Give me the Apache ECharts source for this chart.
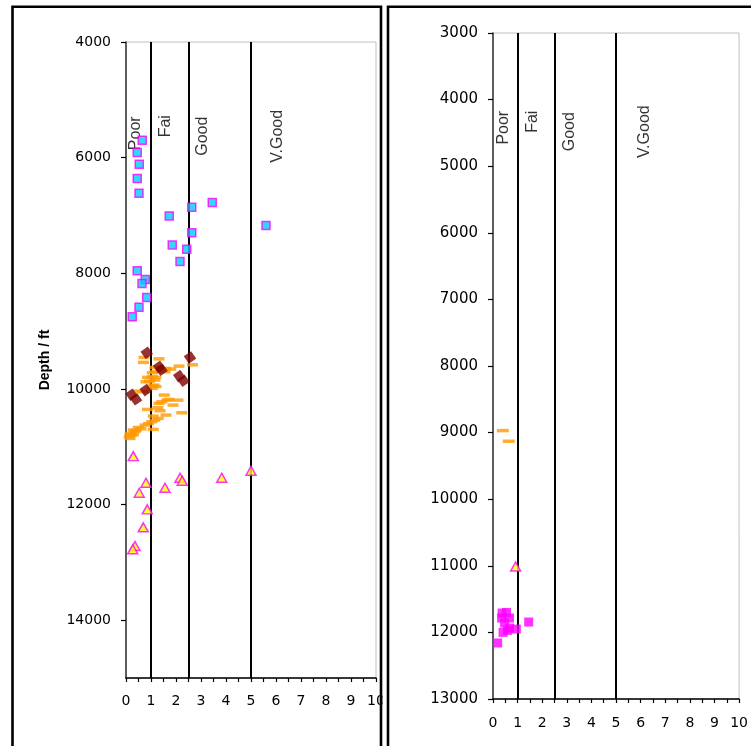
<!DOCTYPE html>
<html>
<head>
<meta charset="utf-8">
<script src="https://cdn.jsdelivr.net/npm/echarts@6/dist/echarts.min.js"></script>
<style>
html,body{margin:0;padding:0;background:#fff;}
#c{width:751px;height:746px;}
</style>
</head>
<body>
<div id="c"></div>
<script>
// ---------- data ----------
const bandNames = ['Poor', 'Fai', 'Good', 'V.Good'];
const bandLimits = [1, 2.5, 5];
const bandLabelXLeft = [0.39, 1.6, 3.06, 6.06];
const bandLabelYLeft = [5579, 5457, 5630, 5630];
const bandLabelXRight = [0.43, 1.59, 3.11, 6.14];
const bandLabelYRight = [4422, 4332, 4482, 4482];

const xTicksLeft = [0, 10];
const depthRangeLeft = [4000, 15000];
const depthStepLeft = 2000;
const depthRangeRight = [3000, 13000];
const depthStepRight = 1000;

// Left panel series: [value, depth ft]
const squaresLeft = [
  [0.65,5699],[0.45,5912],[0.53,6114],[0.45,6361],[0.52,6615],[1.73,7008],[2.63,6857],
  [3.45,6776],[5.6,7174],[2.63,7300],[1.85,7509],[2.43,7583],[2.16,7796],[0.45,7958],
  [0.77,8107],[0.64,8176],[0.83,8418],[0.52,8586],[0.25,8754]
];
const diamondsLeft = [
  [0.83,9376],[1.32,9618],[1.42,9670],[2.56,9456],[2.13,9779],[2.3,9860],[0.22,10100],
  [0.4,10180],[0.79,10021]
];
const dashesLeft = [
  [0.72,9456],[1.32,9480],[0.7,9542],[2.12,9606],[2.66,9583],[1.16,9628],[1.59,9646],
  [1.79,9657],[1.56,9704],[1.16,9704],[1.05,9721],[0.86,9801],[1.05,9791],[1.19,9800],
  [1.16,9848],[0.8,9877],[0.94,9866],[1.12,9934],[1.07,9952],[1.2,9960],[1.05,9991],
  [0.69,10050],[0.52,10038],[1.53,10107],[1.72,10182],[1.63,10194],[2.08,10194],
  [1.43,10223],[1.88,10280],[1.32,10251],[1.28,10326],[0.86,10355],[1.36,10378],
  [2.23,10413],[1.6,10453],[1.09,10470],[1.29,10511],[1.03,10569],[0.76,10626],
  [0.49,10666],[0.29,10712],[0.36,10740],[0.16,10770],[0.22,10800],[0.13,10828],
  [0.16,10856],[1.09,10700],[0.9,10600],[0.6,10690],[0.4,10720],[0.3,10790],[1.15,10540]
];
const trianglesLeft = [
  [0.29,11162],[2.16,11537],[2.25,11589],[3.83,11537],[5.0,11416],[0.8,11623],
  [1.56,11710],[0.53,11796],[0.85,12083],[0.69,12394],[0.36,12717],[0.27,12774]
];

// Right panel series
const dashesRight = [[0.4,8970],[0.64,9130]];
const trianglesRight = [[0.92,11010]];
const squaresRight = [
  [0.37,11709],[0.55,11700],[0.35,11784],[0.67,11784],[0.47,11859],[1.45,11844],
  [0.95,11950],[0.67,11935],[0.41,12000],[0.59,11970],[0.19,12159]
];

// ---------- chart ----------
const chart = echarts.init(document.getElementById('c'), null, {renderer: 'canvas'});

const tickFont = 'DejaVu Sans';
function xAxisCfg(gridIndex, margin) {
  return {
    type: 'value', gridIndex: gridIndex,
    min: xTicksLeft[0], max: xTicksLeft[1], interval: 0.5,
    splitLine: {show: false},
    axisLine: {lineStyle: {color: '#000', width: 1.5}},
    axisTick: {length: 4, lineStyle: {color: '#000', width: 1.2}},
    axisLabel: {
      margin: margin, color: '#000', fontFamily: tickFont, fontSize: 14,
      formatter: v => (Math.abs(v - Math.round(v)) < 1e-9 ? String(Math.round(v)) : '')
    }
  };
}
function yAxisCfg(gridIndex, range, step, fontSize, extra) {
  return Object.assign({
    type: 'value', gridIndex: gridIndex, inverse: true,
    min: range[0], max: range[1], interval: step,
    splitLine: {show: false},
    axisLine: {lineStyle: {color: '#333', width: 1.5}},
    axisTick: {length: 5, lineStyle: {color: '#000', width: 1.2}},
    axisLabel: {
      margin: 15, color: '#000', fontFamily: tickFont, fontSize: fontSize,
      showMaxLabel: range[1] % step === 0 ? true : false,
      formatter: v => String(v)
    }
  }, extra || {});
}

function bandLines(xi, yi) {
  return {
    type: 'scatter', xAxisIndex: xi, yAxisIndex: yi, data: [], silent: true,
    markLine: {
      silent: true, symbol: 'none', animation: false,
      label: {show: false},
      lineStyle: {color: '#000', width: 2, type: 'solid'},
      data: bandLimits.map(v => ({xAxis: v}))
    }
  };
}
function bandLabels(xi, yi, xs, ys) {
  return {
    type: 'scatter', xAxisIndex: xi, yAxisIndex: yi, silent: true,
    symbolSize: 1, itemStyle: {color: 'rgba(0,0,0,0)'},
    z: 5,
    label: {
      show: true, position: 'inside', rotate: 90,
      align: 'center', verticalAlign: 'middle',
      fontFamily: 'Liberation Sans', fontSize: 16, color: '#000',
      formatter: p => p.data.name
    },
    data: bandNames.map((n, i) => ({name: n, value: [xs[i], ys[i]]}))
  };
}

const magenta = '#ff00ff';
const option = {
  animation: false,
  backgroundColor: '#fff',
  grid: [
    {left: 126, top: 42, width: 250, height: 636, show: true, borderColor: '#c0c0c0', borderWidth: 1, backgroundColor: '#fff'},
    {left: 493, top: 33, width: 250, height: 666, show: true, borderColor: '#c0c0c0', borderWidth: 1, backgroundColor: '#fff'}
  ],
  xAxis: [xAxisCfg(0, 16), xAxisCfg(1, 17)],
  yAxis: [
    yAxisCfg(0, depthRangeLeft, depthStepLeft, 14, {
      name: 'Depth / ft', nameLocation: 'middle', nameRotate: 90, nameGap: 74,
      nameTextStyle: {fontFamily: 'Liberation Sans', fontWeight: 'bold', fontSize: 14, color: '#000'}
    }),
    yAxisCfg(1, depthRangeRight, depthStepRight, 15)
  ],
  series: [
    bandLines(0, 0),
    bandLines(1, 1),
    bandLabels(0, 0, bandLabelXLeft, bandLabelYLeft),
    bandLabels(1, 1, bandLabelXRight, bandLabelYRight),
    {
      type: 'scatter', xAxisIndex: 0, yAxisIndex: 0, data: squaresLeft, z: 10,
      symbol: 'rect', symbolSize: 8,
      itemStyle: {color: '#00ccff', borderColor: magenta, borderWidth: 1.5}
    },
    {
      type: 'scatter', xAxisIndex: 0, yAxisIndex: 0, data: dashesLeft, z: 10,
      symbol: 'rect', symbolSize: [11, 3.5],
      itemStyle: {color: '#ff9900'}
    },
    {
      type: 'scatter', xAxisIndex: 0, yAxisIndex: 0, data: diamondsLeft, z: 11,
      symbol: 'rect', symbolSize: 9, symbolRotate: 35,
      itemStyle: {color: '#800000'}
    },
    {
      type: 'scatter', xAxisIndex: 0, yAxisIndex: 0, data: trianglesLeft, z: 10,
      symbol: 'triangle', symbolSize: [10, 9],
      itemStyle: {color: '#ffff00', borderColor: magenta, borderWidth: 1.5}
    },
    {
      type: 'scatter', xAxisIndex: 1, yAxisIndex: 1, data: dashesRight, z: 10,
      symbol: 'rect', symbolSize: [12, 3.5],
      itemStyle: {color: '#ff9900'}
    },
    {
      type: 'scatter', xAxisIndex: 1, yAxisIndex: 1, data: trianglesRight, z: 10,
      symbol: 'triangle', symbolSize: [10, 9],
      itemStyle: {color: '#ffff00', borderColor: magenta, borderWidth: 1.5}
    },
    {
      type: 'scatter', xAxisIndex: 1, yAxisIndex: 1, data: squaresRight, z: 10,
      symbol: 'rect', symbolSize: 9,
      itemStyle: {color: magenta}
    }
  ],
  graphic: [
    {type: 'rect', z: 100, silent: true, shape: {x: 382.5, y: 0, width: 4.5, height: 746}, style: {fill: '#fff'}},
    {type: 'rect', z: 101, silent: true, shape: {x: 12.5, y: 6.7, width: 368.5, height: 800}, style: {fill: 'none', stroke: '#000', lineWidth: 2.6}},
    {type: 'rect', z: 101, silent: true, shape: {x: 388, y: 6.7, width: 400, height: 800}, style: {fill: 'none', stroke: '#000', lineWidth: 2.6}}
  ]
};
chart.setOption(option);
</script>
</body>
</html>
